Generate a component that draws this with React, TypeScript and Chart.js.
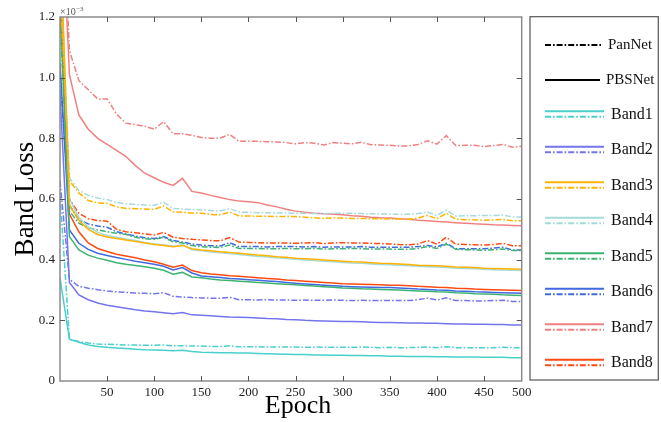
import React, { useEffect, useRef } from "react";
import { Chart, registerables } from "chart.js";
Chart.register(...registerables);

const epochs = [0,1,2,3,4,5,6,7,8,9,10,11,12,13,14,15,16,17,18,19,20,21,22,23,24,25,26,27,28,29,30,31,32,33,34,35,36,37,38,39,40,41,42,43,44,45,46,47,48,49];
const xTickValues = [5,10,15,20,25,30,35,40,45,49];
const xTickLabels = ["50","100","150","200","250","300","350","400","450","500"];
const yTickValues = [0,0.2,0.4,0.6,0.8,1.0,1.2];
const yTickLabels = ["0","0.2","0.4","0.6","0.8","1.0","1.2"];

const bandNames = ["Band1","Band2","Band3","Band4","Band5","Band6","Band7","Band8"];
const bandColors = ["#48D1CC","#7474EE","#FFB300","#A6DADA","#3CB371","#4169E1","#F08080","#FF4A10"];

const band1PBS = [0.34,0.138,0.128,0.119,0.114,0.111,0.109,0.107,0.105,0.103,0.102,0.101,0.100,0.101,0.097,0.095,0.094,0.093,0.093,0.092,0.092,0.091,0.090,0.089,0.088,0.087,0.087,0.086,0.086,0.085,0.085,0.084,0.084,0.083,0.083,0.082,0.082,0.081,0.081,0.081,0.080,0.080,0.079,0.079,0.079,0.078,0.078,0.078,0.077,0.077];
const band1Pan = [0.62,0.138,0.130,0.125,0.122,0.121,0.120,0.119,0.119,0.118,0.118,0.119,0.116,0.116,0.115,0.115,0.114,0.114,0.116,0.113,0.113,0.113,0.112,0.112,0.112,0.112,0.111,0.112,0.111,0.111,0.111,0.111,0.112,0.111,0.110,0.111,0.110,0.110,0.111,0.112,0.110,0.113,0.110,0.110,0.110,0.110,0.110,0.111,0.110,0.110];
const band2PBS = [0.95,0.325,0.284,0.268,0.257,0.250,0.245,0.240,0.235,0.231,0.228,0.225,0.222,0.226,0.218,0.217,0.215,0.213,0.211,0.210,0.209,0.208,0.206,0.205,0.203,0.202,0.200,0.199,0.198,0.197,0.196,0.196,0.195,0.194,0.193,0.193,0.192,0.191,0.191,0.190,0.190,0.189,0.188,0.188,0.187,0.187,0.186,0.186,0.185,0.185];
const band2Pan = [0.66,0.335,0.312,0.306,0.301,0.297,0.294,0.292,0.290,0.289,0.288,0.291,0.279,0.277,0.275,0.274,0.273,0.273,0.276,0.268,0.268,0.267,0.268,0.267,0.267,0.266,0.267,0.266,0.266,0.267,0.266,0.265,0.266,0.265,0.265,0.265,0.265,0.265,0.268,0.273,0.267,0.274,0.265,0.265,0.264,0.264,0.265,0.266,0.262,0.262];
const band3PBS = [1.5,0.58,0.53,0.50,0.483,0.475,0.470,0.465,0.460,0.455,0.450,0.447,0.443,0.447,0.436,0.432,0.429,0.426,0.424,0.421,0.418,0.415,0.413,0.410,0.408,0.405,0.403,0.401,0.399,0.397,0.395,0.393,0.392,0.390,0.388,0.387,0.386,0.384,0.382,0.381,0.380,0.378,0.376,0.375,0.374,0.372,0.371,0.370,0.369,0.368];
const band3Pan = [1.3,0.66,0.62,0.595,0.587,0.586,0.574,0.569,0.568,0.567,0.566,0.577,0.558,0.556,0.554,0.553,0.549,0.548,0.557,0.544,0.544,0.543,0.543,0.542,0.542,0.542,0.540,0.538,0.536,0.538,0.537,0.536,0.536,0.535,0.535,0.534,0.534,0.533,0.537,0.546,0.535,0.553,0.533,0.532,0.531,0.530,0.531,0.533,0.528,0.528];
const band4PBS = [1.45,0.60,0.54,0.508,0.490,0.480,0.474,0.468,0.463,0.457,0.452,0.449,0.444,0.449,0.433,0.429,0.425,0.423,0.420,0.417,0.414,0.411,0.409,0.406,0.404,0.401,0.399,0.397,0.395,0.393,0.391,0.389,0.388,0.386,0.384,0.383,0.382,0.380,0.378,0.377,0.376,0.374,0.372,0.371,0.370,0.368,0.367,0.366,0.365,0.364];
const band4Pan = [1.4,0.67,0.628,0.612,0.603,0.598,0.589,0.584,0.582,0.580,0.579,0.589,0.569,0.567,0.565,0.564,0.562,0.561,0.568,0.557,0.556,0.555,0.555,0.554,0.554,0.553,0.553,0.552,0.551,0.553,0.553,0.553,0.552,0.551,0.551,0.550,0.550,0.550,0.552,0.557,0.546,0.563,0.544,0.545,0.545,0.546,0.546,0.547,0.541,0.541];
const band5PBS = [1.25,0.476,0.432,0.415,0.405,0.398,0.390,0.385,0.381,0.377,0.372,0.365,0.352,0.358,0.343,0.340,0.336,0.333,0.331,0.329,0.327,0.325,0.323,0.321,0.319,0.317,0.315,0.313,0.311,0.309,0.307,0.306,0.304,0.303,0.302,0.301,0.300,0.298,0.297,0.296,0.294,0.293,0.291,0.290,0.288,0.287,0.286,0.284,0.283,0.282];
const band5Pan = [1.2,0.56,0.52,0.505,0.498,0.492,0.487,0.483,0.474,0.469,0.467,0.474,0.459,0.455,0.447,0.443,0.441,0.440,0.448,0.437,0.437,0.437,0.436,0.436,0.437,0.436,0.436,0.437,0.435,0.436,0.436,0.437,0.436,0.435,0.435,0.435,0.434,0.434,0.437,0.443,0.437,0.451,0.434,0.433,0.432,0.431,0.433,0.435,0.430,0.430];
const band6PBS = [1.05,0.498,0.454,0.434,0.421,0.414,0.407,0.401,0.395,0.390,0.385,0.378,0.366,0.374,0.356,0.346,0.344,0.341,0.338,0.336,0.334,0.332,0.330,0.328,0.325,0.322,0.320,0.318,0.316,0.314,0.312,0.311,0.310,0.309,0.308,0.308,0.307,0.305,0.303,0.302,0.300,0.299,0.297,0.296,0.294,0.293,0.292,0.291,0.290,0.289];
const band6Pan = [1.0,0.58,0.531,0.518,0.511,0.507,0.492,0.485,0.478,0.472,0.470,0.476,0.463,0.458,0.452,0.448,0.446,0.445,0.456,0.443,0.443,0.443,0.442,0.443,0.443,0.443,0.442,0.443,0.441,0.442,0.442,0.442,0.443,0.441,0.441,0.441,0.441,0.441,0.443,0.447,0.442,0.454,0.436,0.436,0.436,0.436,0.438,0.441,0.432,0.432];
const band7PBS = [1.7,1.01,0.877,0.83,0.80,0.78,0.76,0.74,0.71,0.685,0.67,0.655,0.645,0.668,0.625,0.62,0.612,0.605,0.598,0.593,0.591,0.588,0.580,0.574,0.566,0.560,0.556,0.553,0.551,0.550,0.548,0.545,0.543,0.540,0.538,0.537,0.535,0.533,0.530,0.528,0.526,0.524,0.522,0.520,0.518,0.517,0.515,0.514,0.513,0.512];
const band7Pan = [1.8,1.09,0.99,0.96,0.93,0.93,0.88,0.85,0.845,0.84,0.83,0.855,0.815,0.815,0.81,0.803,0.80,0.801,0.813,0.79,0.79,0.79,0.789,0.788,0.786,0.782,0.786,0.784,0.778,0.786,0.784,0.782,0.787,0.779,0.778,0.777,0.775,0.775,0.78,0.792,0.781,0.809,0.776,0.777,0.777,0.773,0.776,0.78,0.771,0.774];
const band8PBS = [1.35,0.55,0.492,0.455,0.437,0.427,0.418,0.412,0.406,0.399,0.393,0.385,0.375,0.382,0.364,0.357,0.353,0.350,0.347,0.345,0.343,0.340,0.338,0.336,0.333,0.331,0.329,0.327,0.325,0.323,0.321,0.320,0.319,0.318,0.317,0.316,0.316,0.314,0.312,0.311,0.309,0.308,0.306,0.305,0.303,0.302,0.301,0.300,0.299,0.298];
const band8Pan = [1.3,0.60,0.553,0.535,0.529,0.527,0.500,0.492,0.489,0.485,0.481,0.490,0.474,0.470,0.467,0.465,0.463,0.462,0.473,0.458,0.457,0.456,0.455,0.455,0.455,0.454,0.455,0.456,0.453,0.455,0.456,0.455,0.455,0.454,0.453,0.452,0.450,0.449,0.452,0.463,0.451,0.474,0.451,0.450,0.449,0.448,0.450,0.454,0.446,0.446];

const pbsSeries = [band1PBS, band2PBS, band3PBS, band4PBS, band5PBS, band6PBS, band7PBS, band8PBS];
const panSeries = [band1Pan, band2Pan, band3Pan, band4Pan, band5Pan, band6Pan, band7Pan, band8Pan];

const DASHDOT = [6, 2, 1.6, 2];
const SERIF = '"Liberation Serif", "Times New Roman", serif';

const framePlugin = {
  id: "framePlugin",
  afterDraw(chart: any) {
    const { ctx, chartArea, scales } = chart;
    const { left, right, top, bottom } = chartArea;
    const xs = scales.x;
    const ys = scales.y;
    ctx.save();
    // frame
    ctx.strokeStyle = "#8c8c8c";
    ctx.lineWidth = 1.5;
    ctx.strokeRect(left, top, right - left, bottom - top);
    // inward ticks
    ctx.strokeStyle = "#555";
    ctx.lineWidth = 1;
    ctx.beginPath();
    xTickValues.forEach((v) => {
      const px = Math.round(xs.getPixelForValue(v)) + 0.5;
      if (px > right - 2) return;
      ctx.moveTo(px, bottom);
      ctx.lineTo(px, bottom - 5);
      ctx.moveTo(px, top);
      ctx.lineTo(px, top + 5);
    });
    yTickValues.forEach((v) => {
      const py = Math.round(ys.getPixelForValue(v)) + 0.5;
      if (py > bottom - 2 || py < top + 2) return;
      ctx.moveTo(left, py);
      ctx.lineTo(left + 5, py);
      ctx.moveTo(right, py);
      ctx.lineTo(right - 5, py);
    });
    ctx.stroke();

    // axis titles
    ctx.fillStyle = "#000";
    ctx.font = `27px ${SERIF}`;
    ctx.textAlign = "center";
    ctx.textBaseline = "alphabetic";
    ctx.save();
    ctx.translate(33, (top + bottom) / 2 + 0);
    ctx.rotate(-Math.PI / 2);
    ctx.fillText("Band Loss", 0, 0);
    ctx.restore();
    ctx.font = `26px ${SERIF}`;
    ctx.fillText("Epoch", 298, 413);

    // exponent
    ctx.fillStyle = "#555";
    ctx.textAlign = "left";
    ctx.font = `10px ${SERIF}`;
    ctx.fillText("\u00d710", left, 15);
    const w = ctx.measureText("\u00d710").width;
    ctx.font = `7px ${SERIF}`;
    ctx.fillText("\u22123", left + w + 0.5, 10.5);

    // legend box
    const bx = 530, by = 16.7, bw = 128.3, bh = 363.3;
    ctx.strokeStyle = "#555";
    ctx.lineWidth = 1.2;
    ctx.strokeRect(bx, by, bw, bh);

    const drawLine = (x1: number, x2: number, y: number, color: string, dash: number[], lw: number) => {
      ctx.save();
      ctx.strokeStyle = color;
      ctx.lineWidth = lw;
      ctx.setLineDash(dash);
      ctx.beginPath();
      ctx.moveTo(x1, y);
      ctx.lineTo(x2, y);
      ctx.stroke();
      ctx.restore();
    };
    ctx.fillStyle = "#111";
    ctx.textBaseline = "middle";
    drawLine(545, 602, 45, "#000", DASHDOT, 2);
    ctx.font = `15px ${SERIF}`;
    ctx.fillText("PanNet", 608, 45);
    drawLine(545, 600, 80, "#000", [], 2);
    ctx.fillText("PBSNet", 606, 80);
    ctx.font = `16px ${SERIF}`;
    bandNames.forEach((name, i) => {
      const cy = 114 + i * 35.5;
      drawLine(545, 604, cy - 2.8, bandColors[i], [], 2);
      drawLine(545, 604, cy + 2.8, bandColors[i], DASHDOT, 2);
      ctx.fillText(name, 611, cy + 0.5);
    });
    ctx.restore();
  },
};

export default function App() {
  const ref = useRef<HTMLCanvasElement | null>(null);
  useEffect(() => {
    if (!ref.current) return;
    const datasets: any[] = [];
    bandNames.forEach((name, b) => {
      datasets.push({
        label: name + " PBSNet",
        data: pbsSeries[b].map((y, i) => ({ x: epochs[i], y })),
        borderColor: bandColors[b],
        borderWidth: 1.5,
        pointRadius: 0,
        tension: 0,
        fill: false,
      });
      datasets.push({
        label: name + " PanNet",
        data: panSeries[b].map((y, i) => ({ x: epochs[i], y })),
        borderColor: bandColors[b],
        borderWidth: 1.5,
        borderDash: DASHDOT,
        pointRadius: 0,
        tension: 0,
        fill: false,
      });
    });
    const chart = new Chart(ref.current, {
      type: "line",
      data: { datasets },
      options: {
        responsive: false,
        animation: false,
        layout: { padding: { left: 0, top: 17, right: 661 - 521.7, bottom: 0 } },
        plugins: { legend: { display: false }, tooltip: { enabled: false } },
        scales: {
          x: {
            type: "linear",
            min: 0,
            max: 49,
            grid: { display: false, drawTicks: false },
            border: { display: false },
            afterBuildTicks: (s: any) => {
              s.ticks = xTickValues.map((v) => ({ value: v }));
            },
            afterFit: (s: any) => {
              s.height = 41;
            },
            ticks: {
              autoSkip: false,
              maxRotation: 0,
              padding: 4,
              color: "#222",
              font: { family: SERIF, size: 13 },
              callback: (_v: any, i: number) => xTickLabels[i],
            },
          },
          y: {
            type: "linear",
            min: 0,
            max: 1.2,
            grid: { display: false, drawTicks: false },
            border: { display: false },
            afterBuildTicks: (s: any) => {
              s.ticks = yTickValues.map((v) => ({ value: v }));
            },
            afterFit: (s: any) => {
              s.width = 60;
            },
            ticks: {
              autoSkip: false,
              padding: 5,
              color: "#222",
              font: { family: SERIF, size: 13 },
              callback: (_v: any, i: number) => yTickLabels[i],
            },
          },
        },
      },
      plugins: [framePlugin],
    } as any);
    return () => chart.destroy();
  }, []);
  return (
    <div style={{ position: "fixed", left: 0, top: 0, width: 661, height: 422, background: "#fff" }}>
      <canvas ref={ref} width={661} height={422} style={{ display: "block" }} />
    </div>
  );
}
